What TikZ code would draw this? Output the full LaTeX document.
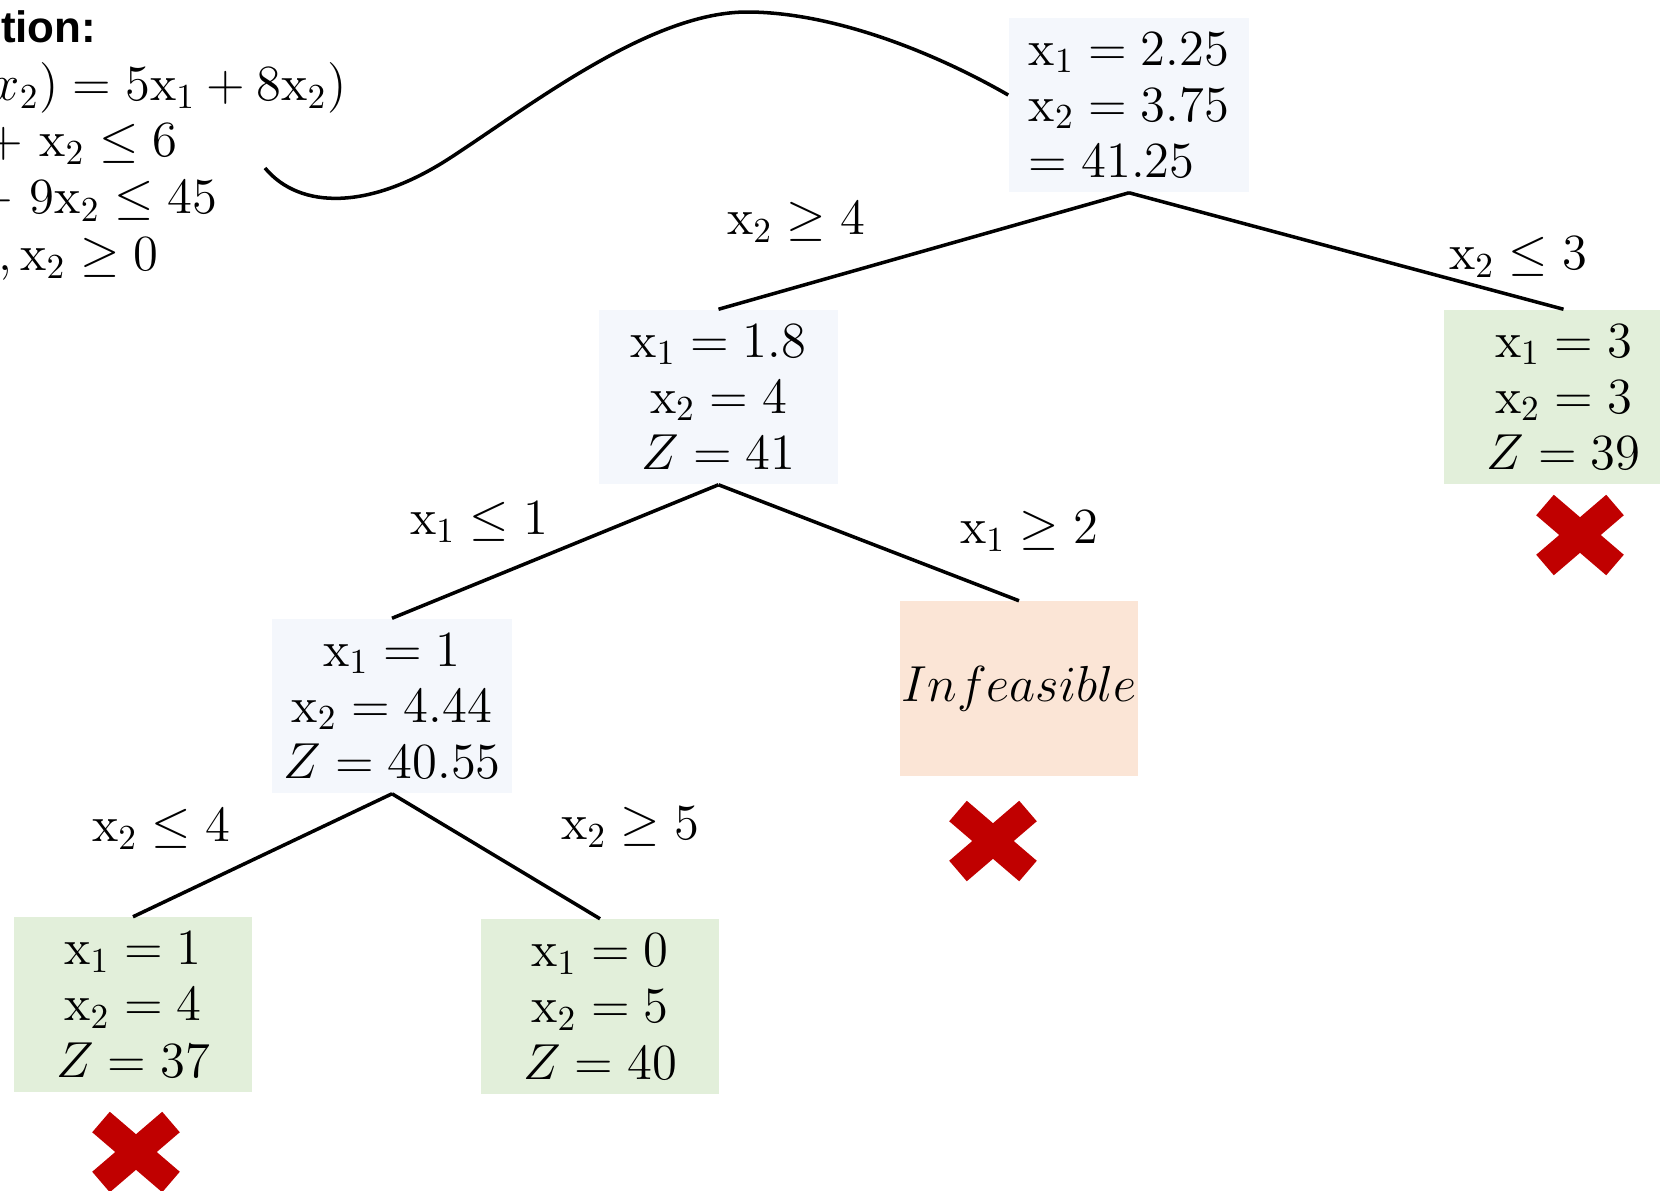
\documentclass[tikz,border=0pt]{standalone}
\usepackage{amsmath}
\usepackage{amssymb}
\usepackage{fontspec}
\newfontfamily\headfont{Liberation Sans}
\newcommand{\vx}{\mathrm{x}}
\definecolor{bbblue}{RGB}{244,247,252}
\definecolor{bbgreen}{RGB}{226,239,218}
\definecolor{bborange}{RGB}{251,229,214}
\definecolor{bbred}{RGB}{192,0,0}
\tikzset{
    bb node/.style={
        fill=bbblue,
        minimum width=2.38cm,
        minimum height=1.74cm,
        align=center,
        font=\fontsize{14.4}{16}\selectfont
    },
    bb leaf/.style={bb node, fill=bbgreen},
    bb dead/.style={bb node, fill=bborange, inner xsep=0pt},
    bb label/.style={font=\fontsize{14.4}{16}\selectfont},
    bb form/.style={anchor=east, inner sep=0pt, font=\fontsize{14.4}{16}\selectfont},
    bb edge/.style={line width=1pt},
    bb cut/.style={bbred, line width=0.27cm},
}

\begin{document}
\begin{tikzpicture}[x=0.01cm,y=-0.01cm]
    \useasboundingbox (0,0) rectangle (1660,1190);
    \clip (0,0) rectangle (1660,1190);

    \node[bb form, font=\headfont\bfseries\fontsize{12.5}{15}\selectfont] (form0) at (97,27) {tion:};
    \node[bb form] (form1) at (347,88) {$x_2) = 5\vx_1 + 8\vx_2)$};
    \node[bb form] (form2) at (178,144) {$+\ \vx_2 \leq 6$};
    \node[bb form] (form3) at (218,201) {$+\ 9\vx_2 \leq 45$};
    \node[bb form] (form4) at (159,259) {${}_1, \vx_2 \geq 0$};
    \coordinate (form hook) at (265,168);

    \node[bb node, align=left, minimum width=2.40cm] (root) at (1129,105) {$\vx_1 = 2.25$\\$\vx_2 = 3.75$\\$= 41.25$};
    \node[bb node] (lp2) at (718.5,397) {$\vx_1 = 1.8$\\$\vx_2 = 4$\\$Z = 41$};
    \node[bb leaf] (lp3) at (1563.5,397) {$\vx_1 = 3$\\$\vx_2 = 3$\\$Z = 39$};
    \node[bb node] (lp4) at (392,706) {$\vx_1 = 1$\\$\vx_2 = 4.44$\\$Z = 40.55$};
    \node[bb dead] (lp5) at (1019,688.5) {$Infeasible$};
    \node[bb leaf] (lp6) at (133,1004.5) {$\vx_1 = 1$\\$\vx_2 = 4$\\$Z = 37$};
    \node[bb leaf] (lp7) at (600,1006.5) {$\vx_1 = 0$\\$\vx_2 = 5$\\$Z = 40$};

    \node[bb label] (br2) at (796,222) {$\vx_2 \geq 4$};
    \node[bb label] (br3) at (1518,257) {$\vx_2 \leq 3$};
    \node[bb label] (br4) at (479,522) {$\vx_1 \leq 1$};
    \node[bb label] (br5) at (1029,531) {$\vx_1 \geq 2$};
    \node[bb label] (br6) at (161,829) {$\vx_2 \leq 4$};
    \node[bb label] (br7) at (630,827) {$\vx_2 \geq 5$};

    \draw[bb edge] (root.south) -- (lp2.north);
    \draw[bb edge] (root.south) -- (lp3.north);
    \draw[bb edge] (lp2.south) -- (lp4.north);
    \draw[bb edge] (lp2.south) -- (lp5.north);
    \draw[bb edge] (lp4.south) -- (lp6.north);
    \draw[bb edge] (lp4.south) -- (lp7.north);
    \draw[bb edge] (form hook) .. controls (300,210) and (370,210) .. (450,158)
        .. controls (530,106) and (650,12) .. (747,12)
        .. controls (830,12) and (930,50) .. ([yshift=0.1cm]root.west);

    \coordinate (cut3) at (1580,535);
    \coordinate (cut5) at (993,841);
    \coordinate (cut6) at (136,1152);
    \draw[bb cut, shift={(cut3)}] (-35,-30) -- (35,30) (-35,30) -- (35,-30);
    \draw[bb cut, shift={(cut5)}] (-35,-30) -- (35,30) (-35,30) -- (35,-30);
    \draw[bb cut, shift={(cut6)}] (-35,-30) -- (35,30) (-35,30) -- (35,-30);
\end{tikzpicture}
\end{document}
